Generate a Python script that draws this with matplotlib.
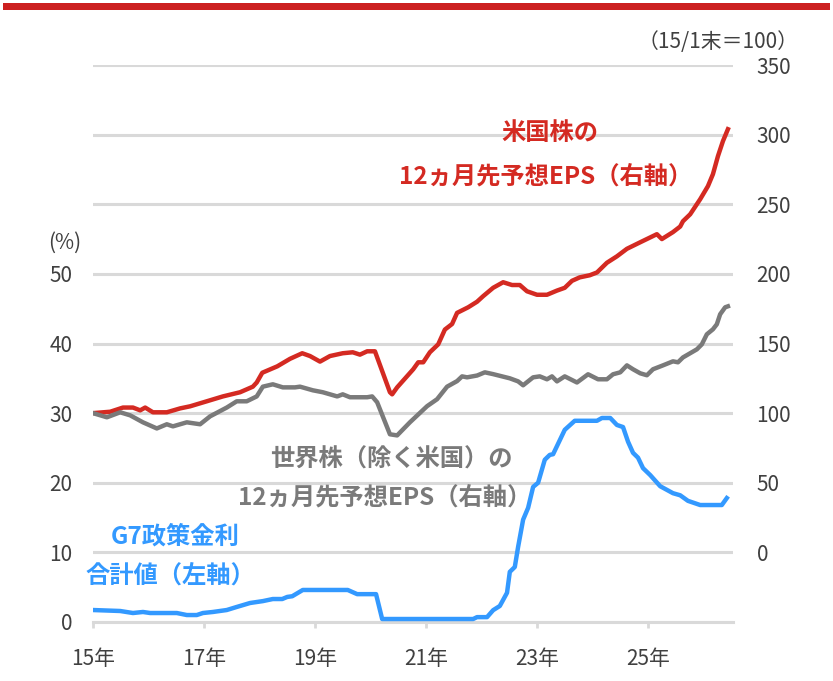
import matplotlib
matplotlib.use("Agg")
import matplotlib.pyplot as plt
from matplotlib.patches import Rectangle

plt.rcParams['font.family'] = ['Noto Sans CJK JP', 'DejaVu Sans']

# 米国株 12ヵ月先予想EPS (15/1末=100, right axis)
us_t = [2015.00, 2015.31, 2015.54, 2015.72, 2015.85, 2015.94, 2016.08, 2016.33,
        2016.57, 2016.75, 2017.05, 2017.34, 2017.65, 2017.88, 2017.95, 2018.05,
        2018.32, 2018.55, 2018.77, 2018.91, 2019.09, 2019.27, 2019.50, 2019.68,
        2019.81, 2019.94, 2020.08, 2020.35, 2020.39, 2020.48, 2020.77, 2020.86,
        2020.95, 2021.07, 2021.22, 2021.34, 2021.47, 2021.56, 2021.76, 2021.92,
        2022.03, 2022.21, 2022.39, 2022.55, 2022.69, 2022.82, 2023.00, 2023.18,
        2023.36, 2023.50, 2023.63, 2023.77, 2023.95, 2024.08, 2024.26, 2024.44,
        2024.62, 2024.86, 2025.16, 2025.25, 2025.45, 2025.58, 2025.63, 2025.76,
        2025.94, 2026.08, 2026.17, 2026.26, 2026.35, 2026.44]
us_eps = [100, 101, 104, 104, 102, 104, 100.6, 100.6,
          103.4, 104.9, 108.5, 112, 115, 119, 122, 129,
          133.6, 139, 143, 141, 137, 141, 143, 143.7,
          142, 144.4, 144.4, 115, 113.5, 118.5, 131.5, 136.5,
          136.5, 143.7, 149.4, 160, 164, 172, 176, 180,
          184, 190, 194, 192, 192, 187.5, 185, 185,
          188, 190, 195, 197.5, 199, 201, 208, 212.6,
          218, 222.7, 228.5, 225, 230, 234, 237.8, 242.8,
          253.6, 263, 271.6, 284.5, 295.3, 303.9]

# 世界株(除く米国) 12ヵ月先予想EPS (15/1末=100, right axis)
world_t = [2015.00, 2015.25, 2015.49, 2015.67, 2015.90, 2016.15, 2016.33, 2016.44,
           2016.69, 2016.93, 2017.11, 2017.41, 2017.59, 2017.77, 2017.95, 2018.06,
           2018.24, 2018.42, 2018.64, 2018.73, 2018.96, 2019.14, 2019.40, 2019.50,
           2019.63, 2019.94, 2020.03, 2020.12, 2020.35, 2020.48, 2020.71, 2021.02,
           2021.20, 2021.38, 2021.56, 2021.65, 2021.74, 2021.92, 2022.06, 2022.21,
           2022.37, 2022.51, 2022.66, 2022.75, 2022.93, 2023.05, 2023.18, 2023.27,
           2023.36, 2023.50, 2023.72, 2023.92, 2024.10, 2024.26, 2024.37, 2024.50,
           2024.62, 2024.73, 2024.86, 2024.98, 2025.09, 2025.27, 2025.45, 2025.54,
           2025.63, 2025.88, 2025.97, 2026.06, 2026.17, 2026.24, 2026.30, 2026.39,
           2026.44]
world_eps = [100, 97, 100.6, 98.4, 93.4, 89, 92, 90.5,
             93.4, 92, 97.7, 104, 108.5, 108.5, 112, 119,
             120.7, 118.5, 118.5, 119, 116.4, 115, 112, 113.5,
             111.4, 111.4, 112, 107.8, 84.8, 84, 93.4, 105,
             110, 119, 123, 126.4, 125.7, 127, 129.3, 128,
             126.4, 125, 122.8, 120, 125.7, 126.4, 124.3, 126.4,
             122.8, 126.4, 122, 127.9, 124.3, 124.3, 127.9, 129.3,
             134.3, 131.5, 128.6, 127.2, 131.5, 134.3, 137.2, 136.5,
             140, 145.8, 149.4, 156.6, 160.2, 163.8, 171, 176,
             176.7]

# G7政策金利合計値 (%, left axis)
g7_t = [2015.00, 2015.49, 2015.72, 2015.90, 2016.03, 2016.51, 2016.69, 2016.87,
        2016.98, 2017.16, 2017.41, 2017.59, 2017.83, 2018.06, 2018.24, 2018.41,
        2018.50, 2018.59, 2018.78, 2019.59, 2019.76, 2020.10, 2020.21, 2021.85,
        2021.92, 2022.10, 2022.21, 2022.33, 2022.46, 2022.51, 2022.60, 2022.66,
        2022.75, 2022.84, 2022.93, 2023.02, 2023.14, 2023.23, 2023.29, 2023.41,
        2023.50, 2023.68, 2024.08, 2024.17, 2024.32, 2024.44, 2024.55, 2024.64,
        2024.73, 2024.82, 2024.91, 2025.04, 2025.22, 2025.45, 2025.58, 2025.72,
        2025.94, 2026.33, 2026.42]
g7_rate = [1.72, 1.58, 1.29, 1.44, 1.29, 1.29, 1.0, 1.0,
           1.29, 1.44, 1.72, 2.16, 2.73, 3.0, 3.3, 3.3,
           3.6, 3.7, 4.6, 4.6, 4.0, 4.0, 0.43, 0.43,
           0.7, 0.7, 1.7, 2.3, 4.2, 7.2, 7.9, 10.8,
           14.7, 16.4, 19.4, 20, 23.3, 24, 24.1, 26.1,
           27.6, 28.9, 28.9, 29.3, 29.3, 28.3, 28, 25.9,
           24.3, 23.6, 22.1, 21.1, 19.5, 18.5, 18.2, 17.4,
           16.8, 16.8, 17.8]

year_ticks = [2015, 2017, 2019, 2021, 2023, 2025]
year_labels = ['15年', '17年', '19年', '21年', '23年', '25年']
left_ticks = [0, 10, 20, 30, 40, 50, 60, 70, 80]
left_labels = ['0', '10', '20', '30', '40', '50', '', '', '']
right_ticks = [0, 50, 100, 150, 200, 250, 300, 350]

RED = '#d42a22'
GRAY = '#7a7a7a'
BLUE = '#3399ff'
GRID = '#d9d9d9'
TXT = '#404040'

W, H = 833, 681
fig = plt.figure(figsize=(W / 100, H / 100), dpi=100)
ax = fig.add_axes([93 / W, 1 - 622 / H, 640 / W, 557 / H])
ax2 = ax.twinx()

ax.set_xlim(2015, 2015 + 640 / 55.5)
ax.set_ylim(0, 80)
ax2.set_ylim(-50, 350)

ax.set_yticks(left_ticks)
ax.set_yticklabels(left_labels)
ax.grid(axis='y', color=GRID, lw=2.2)
ax.set_axisbelow(True)
ax2.set_yticks(right_ticks)

ax.set_xticks(year_ticks)
ax.set_xticklabels(year_labels)

for a in (ax, ax2):
    for s in a.spines.values():
        s.set_visible(False)
ax.spines['bottom'].set_visible(True)
ax.spines['bottom'].set_color(GRID)
ax.spines['bottom'].set_linewidth(2.2)

ax.tick_params(axis='x', colors=GRID, length=4.5, width=2, pad=14,
               labelsize=15, labelcolor=TXT)
ax.tick_params(axis='y', length=0, pad=15, labelsize=15, labelcolor=TXT)
ax2.tick_params(axis='y', length=0, pad=17, labelsize=15, labelcolor=TXT)

ax.plot(g7_t, g7_rate, color=BLUE, lw=3.2, solid_joinstyle='round', zorder=3)
ax2.plot(us_t, us_eps, color=RED, lw=3.2, solid_joinstyle='round')
ax2.plot(world_t, world_eps, color=GRAY, lw=3.2, solid_joinstyle='round')


def px_text(x, y, s, **kw):
    fig.text(x / W, 1 - y / H, s, ha='center', va='center', **kw)


px_text(65, 243, '(%)', fontsize=15, color=TXT)
px_text(718, 42, '（15/1末＝100）', fontsize=15, color=TXT)

px_text(550, 133, '米国株の', fontsize=17.5, color=RED, fontweight='bold')
px_text(546, 176, '12ヵ月先予想EPS（右軸）', fontsize=17.5, color=RED, fontweight='bold')
px_text(391, 460, '世界株（除く米国）の', fontsize=17.5, color=GRAY, fontweight='bold')
px_text(385, 497, '12ヵ月先予想EPS（右軸）', fontsize=17.5, color=GRAY, fontweight='bold')
px_text(175, 537, 'G7政策金利', fontsize=17.5, color=BLUE, fontweight='bold')
px_text(170, 577, '合計値（左軸）', fontsize=17.5, color=BLUE, fontweight='bold')

# red band across the top
fig.add_artist(Rectangle((3 / W, 1 - 10 / H), 827 / W, 7 / H,
                         transform=fig.transFigure, color='#cc2020', lw=0))

fig.savefig('out.png', dpi=100)
